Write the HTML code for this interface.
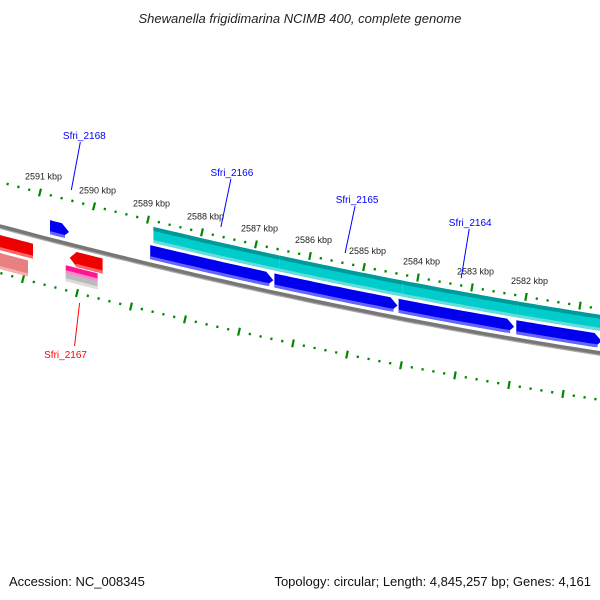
<!DOCTYPE html>
<html><head><meta charset="utf-8"><style>
html,body{margin:0;padding:0;background:#fff;}
svg{display:block;font-family:"Liberation Sans","DejaVu Sans",sans-serif;}
</style></head><body>
<svg id="map" width="600" height="600" viewBox="0 0 600 600">
<text x="300" y="23" text-anchor="middle" font-size="13" font-style="italic" fill="#222">Shewanella frigidimarina NCIMB 400, complete genome</text>
<g id="ticks"></g>
<g id="features"></g>
<g id="labels"></g>
<text x="9" y="586" font-size="13" fill="#111">Accession: NC_008345</text>
<text x="591" y="586" font-size="13" fill="#111" text-anchor="end">Topology: circular; Length: 4,845,257 bp; Genes: 4,161</text>
</svg>
<script>
const tickKbp = [2591, 2590, 2589, 2588, 2587, 2586, 2585, 2584, 2583, 2582, 2581];
const tickLabels = ["2591 kbp","2590 kbp","2589 kbp","2588 kbp","2587 kbp","2586 kbp","2585 kbp","2584 kbp","2583 kbp","2582 kbp",""];
const blueGenes = [[2590.815,2590.463],[2588.96,2586.68],[2586.66,2584.38],[2584.36,2582.22],[2582.18,2580.6]];
const cyanSegs = [[2588.9,2586.57],[2586.57,2584.29],[2584.29,2582.15],[2582.15,2580.6]];
const redGenes = [[2591.8,2591.13],[2590.45,2589.84]];
const geneNames = ["Sfri_2168","Sfri_2166","Sfri_2165","Sfri_2164","Sfri_2167"];
const geneLabelKbp = [2590.42,2587.65,2585.35,2583.2,2590.36];

const NS="http://www.w3.org/2000/svg";
const X = k => 40 + 54*(2591-k);
const yb = x => 226 + 0.268*x - 9.44e-5*x*x;
const ang = x => Math.atan(0.268 - 1.888e-4*x);
function mk(tag, attrs, parent){const e=document.createElementNS(NS,tag);for(const k in attrs)e.setAttribute(k,attrs[k]);parent.appendChild(e);return e;}
const gT=document.getElementById('ticks'), gF=document.getElementById('features'), gL=document.getElementById('labels');

function band(x0,x1,o1,o2,arrow){
  let top=[],bot=[];const n=20;
  let a0=x0,a1=x1;const hw=7;
  if(arrow===1)a1=x1-hw; if(arrow===-1)a0=x0+hw;
  for(let i=0;i<=n;i++){const x=a0+(a1-a0)*i/n;top.push([x,yb(x)+o1]);bot.push([x,yb(x)+o2]);}
  let pts=top.slice();
  if(arrow===1)pts.push([x1,yb(x1)+(o1+o2)/2]);
  pts=pts.concat(bot.reverse());
  if(arrow===-1)pts.push([x0,yb(x0)+(o1+o2)/2]);
  return pts.map(p=>p[0].toFixed(1)+','+p[1].toFixed(1)).join(' ');
}

let bp=[];for(let x=-5;x<=605;x+=10)bp.push(x+','+yb(x).toFixed(1));
const bb2=mk('polyline',{points:bp.map(s=>{const [a,b]=s.split(',');return a+','+(+b+2)}).join(' '),fill:'none',stroke:'#aaa','stroke-width':2},gF);


const bb=mk('polyline',{points:bp.join(' '),fill:'none',stroke:'#777','stroke-width':3.5},gF);



for(let k=2592.2;k>=2580.4;k-=0.2){
  const kk=Math.round(k*10)/10;const major=Math.abs(kk-Math.round(kk))<0.01;
  [[0,-44],[-17,47]].forEach(([dx,off])=>{
    const x=X(kk)+dx; if(x<-5||x>605)return;
    const a=ang(x);const len=major?4:1.2;
    const cx=x, cy=yb(x)+off;
    const l=mk('line',{x1:(cx+len*Math.sin(a)).toFixed(1),y1:(cy-len*Math.cos(a)).toFixed(1),x2:(cx-len*Math.sin(a)).toFixed(1),y2:(cy+len*Math.cos(a)).toFixed(1),stroke:'#080',"stroke-width":2.2},gT);
    
    
  });
}
tickKbp.forEach((k,i)=>{
  const x=X(k); if(!tickLabels[i])return;
  const t=mk('text',{x:x-15,y:(yb(x)-44-13).toFixed(1),"font-size":9,fill:'#222'},gT);
  t.textContent=tickLabels[i];
  
  
});

cyanSegs.forEach(s=>{
  const x0=X(s[0]),x1=X(s[1]);
  const p=mk('polygon',{points:band(x0,x1,-38,-22,0),fill:'#00cccc'},gF);
  
  
  const p2=mk('polygon',{points:band(x0,x1,-38,-34,0),fill:'#009a9a'},gF);
  
  
  const p3=mk('polygon',{points:band(x0,x1,-25,-22,0),fill:'#66dddd'},gF);
  
  
});
blueGenes.forEach(g=>{
  const x0=X(g[0]),x1=X(g[1]);
  const p=mk('polygon',{points:band(x0,x1,-19,-5,1),fill:'#0000ee'},gF);
  
  
  const p2=mk('polygon',{points:band(x0,x1-4,-8,-5,0),fill:'#6666ff'},gF);
  
  
});
const r0=redGenes[0], r1=redGenes[1];
[[X(r0[0]),X(r0[1]),9,24,0,'#ee0000','#ff6666'],[X(r0[0]),X(r0[1])-5,27,43,0,'#e88080','#f4b0b0'],
 [X(r1[0]),X(r1[1]),6,21,-1,'#ee0000','#ff6666'],[X(r1[0])-4,X(r1[1])-5,22,30,0,'#ff1493','#ff88cc'],[X(r1[0])-4,X(r1[1])-5,30,38,0,'#bbbbbb','#dddddd']
].forEach(r=>{
  const p=mk('polygon',{points:band(r[0],r[1],r[2],r[3],r[4]),fill:r[5]},gF);
  
  
  const p2=mk('polygon',{points:band(r[0]+(r[4]===-1?6:0),r[1],r[3]-3,r[3],0),fill:r[6]},gF);
  
  
});

const lab=[[84,139,80,142,71,190,'blue'],[233,176,232,179,222,227,'blue'],[356,203,354,206,344,253,'blue'],[474,226,473,229,465,278,'blue'],[60,358,74,303,69,346,'red']];
geneNames.forEach((n,i)=>{
  const L=lab[i];const x=X(geneLabelKbp[i]);const dx=x-L[4];
  const ln=mk('line',{x1:L[2]+dx,y1:L[3],x2:L[4]+dx,y2:L[5],stroke:L[6]==='red'?'#f00':'#00f','stroke-width':1},gL);
  
  
  const t=mk('text',{x:L[0]+dx,y:L[1],"font-size":10,fill:L[6]==='red'?'#f00':'#00f','text-anchor':'middle'},gL);
  t.textContent=n;
  
  
});
</script>
</body></html>
